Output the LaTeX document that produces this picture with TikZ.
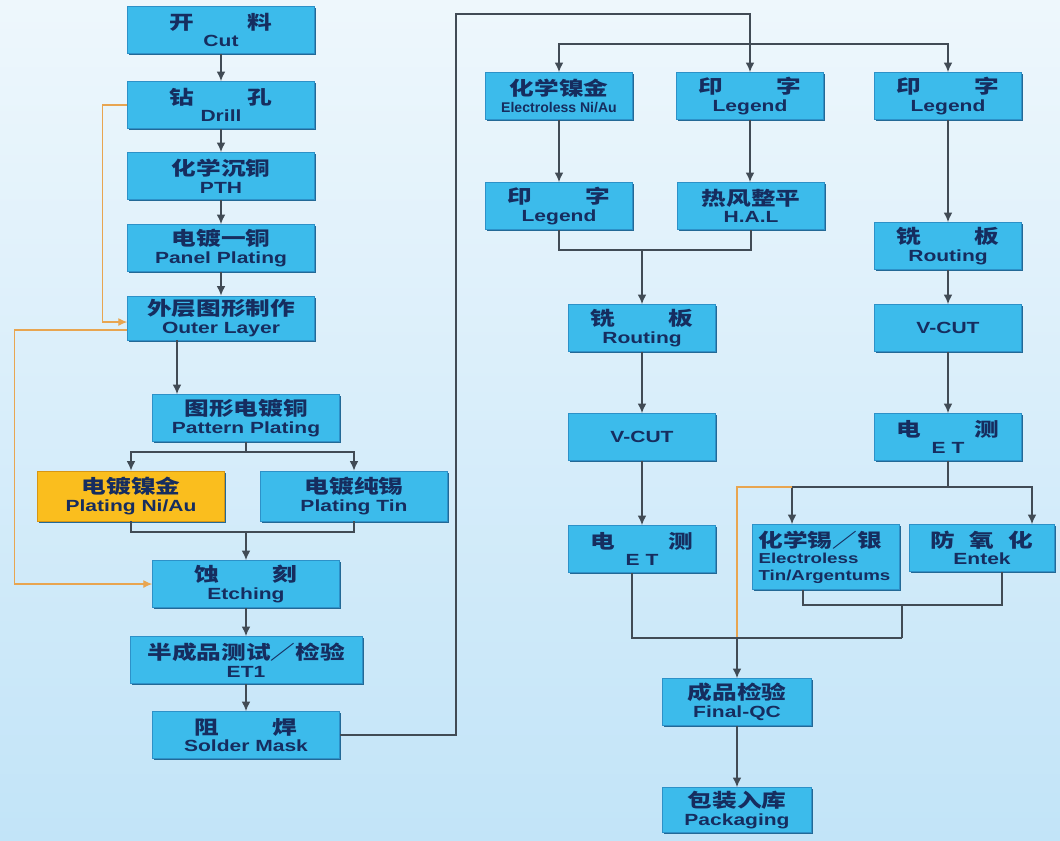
\documentclass[tikz,border=0pt]{standalone}
\usepackage{fontspec}
\setmainfont{Liberation Sans}[FakeStretch=1.3]
\newfontfamily\narrowfont{Liberation Sans}
\newfontfamily\cjkfont{Noto Sans CJK SC}[FakeStretch=1.3]
\usetikzlibrary{positioning,calc,arrows.meta,shadows}

\definecolor{bgtop}{RGB}{238,247,252}
\definecolor{bgbot}{RGB}{194,228,248}
\definecolor{boxfill}{RGB}{60,187,235}
\definecolor{boxline}{RGB}{45,145,200}
\definecolor{boxshade}{RGB}{35,105,150}
\definecolor{goldfill}{RGB}{250,190,30}
\definecolor{goldline}{RGB}{215,150,20}
\definecolor{navy}{RGB}{22,45,95}
\definecolor{flow}{RGB}{65,75,85}
\definecolor{bypass}{RGB}{232,165,80}

\newcommand{\zh}[1]{{\cjkfont\fontsize{10.8}{10}\selectfont #1}}
\newcommand{\gap}{\hspace{1.07cm}}

\begin{document}
\begin{tikzpicture}[x=0.02cm, y=-0.02cm]
	\useasboundingbox (0,0) rectangle (1060,840);
	\shade[top color=bgtop, bottom color=bgbot] (0,0) rectangle (1060,840);

	\tikzstyle{every node}=[align=center, inner sep=1pt]
	\tikzstyle{box}=[draw=boxline, fill=boxfill, text=navy, minimum height=0.94cm,
		font=\bfseries\fontsize{9.2}{10}\selectfont,
		drop shadow={shadow xshift=0.9pt, shadow yshift=-0.9pt, fill=boxshade, opacity=1}]
	\tikzstyle{wide}=[minimum width=3.74cm]
	\tikzstyle{slim}=[minimum width=2.94cm]
	\tikzstyle{gold}=[draw=goldline, fill=goldfill]
	\tikzstyle{line}=[draw=flow, line width=0.8pt]
	\tikzstyle{arr}=[line, -{Latex[length=5.5pt,width=5pt]}]
	\tikzstyle{back}=[draw=bypass, line width=0.6pt]

	% left column
	\node[box, wide] (cut) at (221,30) {\zh{开\gap 料}\\Cut};
	\node[box, wide] (drill) at (221,105) {\zh{钻\gap 孔}\\Drill};
	\node[box, wide] (pth) at (221,176) {\zh{化学沉铜}\\PTH};
	\node[box, wide] (panel) at (221,248) {\zh{电镀一铜}\\Panel Plating};
	\node[box, wide, minimum height=0.88cm] (outer) at (221,318) {\zh{外层图形制作}\\Outer Layer};
	\node[box, wide] (pattern) at (246,418) {\zh{图形电镀铜}\\Pattern Plating};
	\node[box, wide, gold, minimum height=1cm] (niau) at (131,496) {\zh{电镀镍金}\\Plating Ni/Au};
	\node[box, wide, minimum height=1cm] (tin) at (354,496) {\zh{电镀纯锡}\\Plating Tin};
	\node[box, wide] (etch) at (246,584) {\zh{蚀\gap 刻}\\Etching};
	\node[box, minimum width=4.64cm] (et1) at (246,660) {\zh{半成品测试／检验}\\ET1};
	\node[box, wide] (mask) at (246,735) {\zh{阻\gap 焊}\\Solder Mask};

	% middle and right columns
	\node[box, slim] (eni) at (559,96) {\zh{化学镍金}\\{\narrowfont\fontsize{8}{10}\selectfont Electroless Ni/Au}};
	\node[box, slim] (legb) at (750,96) {\zh{印\gap 字}\\Legend};
	\node[box, slim] (legc) at (948,96) {\zh{印\gap 字}\\Legend};
	\node[box, slim] (lega) at (559,206) {\zh{印\gap 字}\\Legend};
	\node[box, slim] (hal) at (751,206) {\zh{热风整平}\\H.A.L};
	\node[box, slim] (routb) at (642,328) {\zh{铣\gap 板}\\Routing};
	\node[box, slim] (vcutb) at (642,437) {V-CUT};
	\node[box, slim] (etb) at (642,549) {\zh{电\gap 测}\\E T};
	\node[box, slim] (routc) at (948,246) {\zh{铣\gap 板}\\Routing};
	\node[box, slim] (vcutc) at (948,328) {V-CUT};
	\node[box, slim] (etc) at (948,437) {\zh{电\gap 测}\\E T};
	\node[box, minimum height=1.3cm, text width=2.7cm, inner xsep=0.12cm, align=left,
		font=\bfseries\fontsize{8.2}{9.4}\selectfont] (tinag) at (826,557)
		{\zh{化学锡／银}\\Electroless\\Tin/Argentums};
	\node[box, minimum width=2.9cm] (entek) at (982,548) {\zh{防\hspace{0.29cm}氧\hspace{0.29cm}化}\\Entek};
	\node[box, minimum width=2.98cm] (qc) at (737,702) {\zh{成品检验}\\Final-QC};
	\node[box, minimum width=2.98cm, minimum height=0.9cm] (pack) at (737,810) {\zh{包装入库}\\Packaging};

	% junctions
	\coordinate (o1) at ([xshift=-0.88cm]outer.south);
	\coordinate (sp1) at (pattern.south |- 0,452);
	\coordinate (mg1) at (etch.north |- 0,532);
	\coordinate (loop) at (456,14);
	\coordinate (sp2) at (legb.north |- 0,44);
	\coordinate (mg2) at (routb.north |- 0,250);
	\coordinate (sp3) at (etc.south |- 0,487);
	\coordinate (tinin) at ([xshift=-0.68cm]tinag.north);
	\coordinate (entin) at ([xshift=1cm]entek.north);
	\coordinate (mg3) at (902,605);
	\coordinate (mg4) at (902,638);

	% left flow
	\draw[arr] (cut) -- (drill);
	\draw[arr] (drill) -- (pth);
	\draw[arr] (pth) -- (panel);
	\draw[arr] (panel) -- (outer);
	\draw[arr] (o1) -- (o1 |- pattern.north);
	\draw[line] (pattern.south) -- (sp1);
	\draw[arr] (sp1) -| (niau.north);
	\draw[arr] (sp1) -| (tin.north);
	\draw[line] (niau.south) |- (mg1) -| (tin.south);
	\draw[arr] (mg1) -- (etch.north);
	\draw[arr] (etch) -- (et1);
	\draw[arr] (et1) -- (mask);
	\draw[back, -{Latex[length=5pt,width=4.5pt]}] (drill.west) -- ++(-25,0) |- ([yshift=-0.08cm]outer.west);
	\draw[back, -{Latex[length=5pt,width=4.5pt]}] ([yshift=-0.24cm]outer.west) -- ++(-113,0) |- (etch.west);

	% right flow
	\draw[arr] (mask.east) -| (loop) -| (legb.north);
	\draw[arr] (sp2) -| (eni.north);
	\draw[arr] (sp2) -| (legc.north);
	\draw[arr] (eni) -- (lega);
	\draw[arr] (legb.south) -- (legb.south |- hal.north);
	\draw[arr] (legc) -- (routc);
	\draw[line] (lega.south) |- (mg2) -| (hal.south);
	\draw[arr] (mg2) -- (routb.north);
	\draw[arr] (routb) -- (vcutb);
	\draw[arr] (vcutb) -- (etb);
	\draw[arr] (routc) -- (vcutc);
	\draw[arr] (vcutc) -- (etc);
	\draw[line] (etc.south) -- (sp3);
	\draw[arr] (sp3) -| (tinin);
	\draw[arr] (sp3) -| (entin);
	\draw[back] (tinin |- sp3) -| (qc.north |- mg4);
	\draw[line] ([xshift=-0.46cm]tinag.south) |- (mg3) -| ([xshift=0.4cm]entek.south);
	\draw[line] (mg3) -- (mg4);
	\draw[line] ([xshift=-0.2cm]etb.south) |- (mg4);
	\draw[arr] (qc.north |- mg4) -- (qc.north);
	\draw[arr] (qc) -- (pack);
\end{tikzpicture}
\end{document}
